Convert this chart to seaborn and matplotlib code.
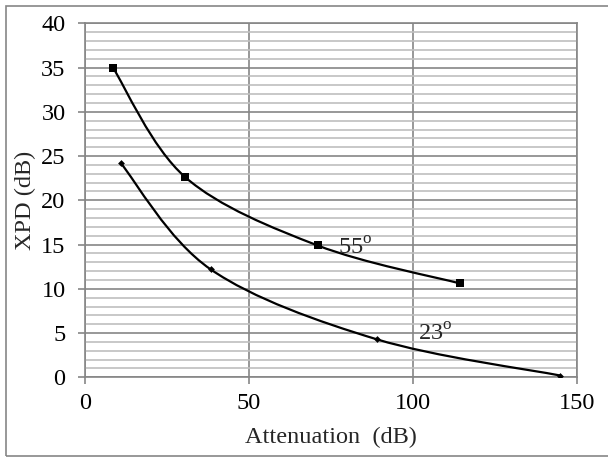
import numpy as np
import pandas as pd
import seaborn as sns
import matplotlib
matplotlib.use("Agg")
import matplotlib.pyplot as plt
from matplotlib.path import Path
from matplotlib.patches import PathPatch, Rectangle
from matplotlib.ticker import MultipleLocator

# data
att_55 = [8.5, 30.6, 70.9, 114.4]
xpd_55 = [35.0, 22.6, 14.9, 10.6]
att_23 = [10.9, 38.3, 88.9, 144.9]
xpd_23 = [24.2, 12.2, 4.3, 0.2]
x_ticks = [0, 50, 100, 150]
y_ticks = [0, 5, 10, 15, 20, 25, 30, 35, 40]

sns.set_theme(style="white")
plt.rcParams["font.family"] = ["Liberation Serif", "DejaVu Serif"]
plt.rcParams["mathtext.fontset"] = "custom"
plt.rcParams["mathtext.rm"] = "Liberation Serif"

major_grey = "#868686"
minor_grey = "#bfbfbf"
fs = 17.5


def smooth_path(xs, ys):
    # Excel-style smoothed line: cubic bezier, control points from neighbours / 6
    pts = np.column_stack([xs, ys])
    ext = np.vstack([pts[0], pts, pts[-1]])
    verts = [pts[0]]
    codes = [Path.MOVETO]
    for i in range(len(pts) - 1):
        p0, p1, p2, p3 = ext[i], ext[i + 1], ext[i + 2], ext[i + 3]
        c1 = p1 + (p2 - p0) / 6.0
        c2 = p2 - (p3 - p1) / 6.0
        verts += [c1, c2, p2]
        codes += [Path.CURVE4] * 3
    return Path(verts, codes)


fig = plt.figure(figsize=(6.08, 4.57), dpi=100)
ax = fig.add_axes([85 / 608, 1 - 377.3 / 457, 492 / 608, 354 / 457])

df55 = pd.DataFrame({"att": att_55, "xpd": xpd_55})
df23 = pd.DataFrame({"att": att_23, "xpd": xpd_23})

for xs, ys in [(att_55, xpd_55), (att_23, xpd_23)]:
    ax.add_patch(PathPatch(smooth_path(xs, ys), facecolor="none",
                           edgecolor="black", lw=1.6, zorder=3))

sns.scatterplot(data=df55, x="att", y="xpd", marker="s", s=40, color="black",
                edgecolor="black", linewidth=0, zorder=4, ax=ax)
sns.scatterplot(data=df23, x="att", y="xpd", marker="D", s=12, color="black",
                edgecolor="black", linewidth=0, zorder=4, ax=ax)

ax.set_xlim(0, 150)
ax.set_ylim(0, 40)
ax.set_xticks(x_ticks)
ax.set_yticks(y_ticks)
ax.yaxis.set_minor_locator(MultipleLocator(1))

ax.grid(which="major", axis="both", color=major_grey, lw=1.2, zorder=1)
ax.grid(which="minor", axis="y", color=minor_grey, lw=1.2, zorder=0)
ax.set_axisbelow(True)

for sp in ax.spines.values():
    sp.set_color(major_grey)
    sp.set_linewidth(1.2)

ax.tick_params(which="major", direction="out", length=5, width=1.2,
               color=major_grey, labelsize=fs, labelcolor="black")
ax.tick_params(axis="y", which="major", pad=9, left=True)
ax.tick_params(axis="x", which="major", pad=6.5, bottom=True)
ax.tick_params(which="minor", length=0)

ax.set_xlabel("Attenuation  (dB)", fontsize=fs)
ax.set_ylabel("XPD (dB)", fontsize=fs)
ax.xaxis.set_label_coords(0.5, (377.3 - 437) / 354)
ax.xaxis.label.set_va("center")
ax.yaxis.set_label_coords((25 - 85) / 492, 0.5)
ax.yaxis.label.set_va("center")

ax.text(77.0, 13.8, r"55$^{\mathrm{o}}$", fontsize=fs, ha="left",
        va="baseline", zorder=5)
ax.text(101.6, 4.1, r"23$^{\mathrm{o}}$", fontsize=fs, ha="left",
        va="baseline", zorder=5)

fig.patches.append(Rectangle((6 / 608, 1 - 455.5 / 457), 1.0, 449.5 / 457,
                             transform=fig.transFigure, fill=False,
                             edgecolor=major_grey, lw=1.2))

fig.savefig("out.png", dpi=100)
